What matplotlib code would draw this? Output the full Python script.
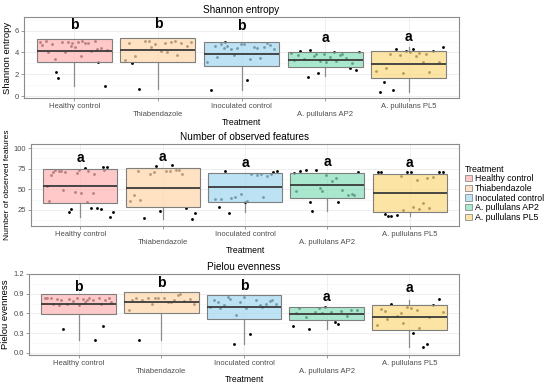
import matplotlib
matplotlib.use("Agg")
import matplotlib.pyplot as plt
from matplotlib.patches import Patch
import numpy as np

plt.rcParams['font.family'] = ['Liberation Sans', 'DejaVu Sans']

categories = ["Healthy control", "Thiabendazole", "Inoculated control",
              "A. pullulans AP2", "A. pullulans PL5"]
colors = ["#FFC9C9", "#FFE2C2", "#BDE3F5", "#A9E9CF", "#FDE4A6"]

# ---- Shannon entropy ----
shannon_q1 = [3.14, 3.14, 2.77, 2.68, 1.69]
shannon_med = [4.15, 4.20, 3.90, 3.35, 2.98]
shannon_q3 = [5.20, 5.35, 5.00, 4.03, 4.18]
shannon_lo = [0.92, 0.68, 0.58, 1.82, 0.37]
shannon_hi = [5.20, 5.35, 5.00, 4.03, 4.46]
shannon_letters = ["b", "b", "b", "a", "a"]
shannon_letter_y = [6.55, 6.6, 6.4, 5.3, 5.45]
shannon_pts = [
    [4.95, 5.1, 2.2, 3.1, 4.85, 5.05, 4.9, 5.0, 0.95, 4.95, 4.8, 5.05, 4.95,
     4.7, 4.9, 1.66, 4.4, 4.5, 4.05, 4.1, 4.0, 4.2, 3.7, 3.4, 4.35, 4.6],
    [3.0, 5.1, 5.05, 4.95, 4.9, 0.68, 4.9, 4.75, 4.85, 5.0, 5.1, 4.6, 4.1,
     3.7, 3.8, 4.5, 3.3, 4.0],
    [4.95, 4.85, 4.8, 4.6, 4.4, 4.35, 4.3, 1.48, 4.8, 4.5, 4.45, 0.58, 4.5,
     4.6, 4.7, 4.8, 3.6, 3.45, 3.8, 3.1, 3.4, 4.4],
    [2.12, 3.95, 4.06, 1.78, 2.58, 3.85, 3.75, 3.8, 3.7, 2.4, 3.6, 3.4, 3.5,
     3.2, 3.3, 3.25, 4.2, 3.0, 3.1, 4.1, 3.9, 3.85, 4.0],
    [4.0, 1.26, 3.9, 3.8, 4.46, 3.7, 3.85, 4.1, 4.15, 0.37, 3.1, 4.28, 3.1,
     4.28, 2.6, 2.2, 2.1, 2.3, 3.95, 0.58],
]

# ---- Number of observed features ----
obs_q1 = [33.6, 28.3, 35.2, 39.3, 23.0]
obs_med = [54.1, 52.0, 52.5, 55.3, 45.9]
obs_q3 = [75.0, 76.2, 70.0, 70.0, 68.0]
obs_lo = [16.8, 13.5, 23.0, 24.2, 17.6]
obs_hi = [75.0, 76.2, 70.0, 70.0, 68.0]
obs_letters = ["a", "a", "a", "a", "a"]
obs_letter_y = [87.7, 89.3, 82.4, 83.2, 81.6]
obs_pts = [
    [54.5, 72.0, 48.8, 73.0, 73.4, 71.3, 68.4, 22.5, 16.0, 76.0, 72.5, 26.2,
     46.7, 35.7, 27.9, 70.5, 77.0, 45.9, 73.5, 27.0, 26.6, 22.9, 35.2, 72.0,
     77.0, 70.0, 67.6, 45.5],
    [71.7, 73.4, 70.5, 21.7, 72.0, 15.2, 27.9, 23.8, 43.4, 74.0, 68.9, 13.5,
     71.7, 37.3, 68.9, 77.9, 35.6, 79.0],
    [21.3, 68.0, 34.4, 29.0, 68.5, 41.0, 72.0, 68.0, 72.0, 66.0, 44.0, 38.0,
     66.8, 40.0, 71.3, 36.0, 38.0, 41.0],
    [51.6, 70.0, 64.0, 34.8, 44.0, 66.8, 72.0, 49.5, 73.0, 70.5, 60.2, 73.4,
     43.4, 48.4, 48.4, 34.4, 23.8, 43.4],
    [70.5, 20.1, 64.0, 66.0, 70.5, 61.5, 17.6, 64.8, 70.5, 71.5, 33.2, 18.8,
     71.0, 29.0, 17.6, 27.9, 25.0, 70.5, 26.0],
]

# ---- Pielou evenness ----
pie_q1 = [0.59, 0.61, 0.52, 0.50, 0.346]
pie_med = [0.742, 0.77, 0.70, 0.59, 0.544]
pie_q3 = [0.89, 0.925, 0.875, 0.69, 0.727]
pie_lo = [0.19, 0.19, 0.14, 0.36, 0.09]
pie_hi = [0.89, 0.925, 0.875, 0.69, 0.81]
pie_letters = ["b", "b", "b", "a", "a"]
pie_letter_y = [1.007, 1.07, 1.02, 0.854, 0.99]
pie_pts = [
    [0.83, 0.81, 0.80, 0.41, 0.84, 0.84, 0.81, 0.75, 0.84, 0.82, 0.82, 0.84,
     0.79, 0.84, 0.83, 0.36, 0.80, 0.72, 0.74, 0.19, 0.82, 0.78, 0.77, 0.73, 0.75],
    [0.84, 0.88, 0.75, 0.74, 0.78, 0.80, 0.79, 0.83, 0.81, 0.80, 0.83, 0.82,
     0.83, 0.19, 0.89, 0.83, 0.645, 0.78],
    [0.845, 0.79, 0.85, 0.78, 0.73, 0.13, 0.75, 0.285, 0.72, 0.74, 0.78, 0.80,
     0.81, 0.82, 0.81, 0.68, 0.68, 0.69, 0.57, 0.70],
    [0.676, 0.41, 0.47, 0.356, 0.65, 0.69, 0.676, 0.64, 0.62, 0.65, 0.62,
     0.54, 0.56, 0.60, 0.60, 0.44],
    [0.68, 0.64, 0.14, 0.61, 0.615, 0.65, 0.75, 0.73, 0.70, 0.66, 0.08, 0.56,
     0.82, 0.30, 0.51, 0.54, 0.46, 0.43, 0.38],
]

panels = [
    dict(title="Shannon entropy", ylabel="Shannon entropy",
         q1=shannon_q1, med=shannon_med, q3=shannon_q3, lo=shannon_lo, hi=shannon_hi,
         pts=shannon_pts, letters=shannon_letters, ly=shannon_letter_y,
         ylim=(-0.18, 7.26), yticks=[0, 2, 4, 6], yticklabels=["0", "2", "4", "6"],
         minor=[1, 3, 5, 7], rect=(24, 17, 459, 98), ylfs=6.8),
    dict(title="Number of observed features", ylabel="Number of observed features",
         q1=obs_q1, med=obs_med, q3=obs_q3, lo=obs_lo, hi=obs_hi,
         pts=obs_pts, letters=obs_letters, ly=obs_letter_y,
         ylim=(5.5, 105), yticks=[25, 50, 75, 100], yticklabels=["25", "50", "75", "100"],
         minor=[12.5, 37.5, 62.5, 87.5], rect=(31, 144, 459, 226), ylfs=6.1),
    dict(title="Pielou evenness", ylabel="Pielou evenness",
         q1=pie_q1, med=pie_med, q3=pie_q3, lo=pie_lo, hi=pie_hi,
         pts=pie_pts, letters=pie_letters, ly=pie_letter_y,
         ylim=(-0.035, 1.2), yticks=[0.0, 0.3, 0.6, 0.9, 1.2],
         yticklabels=["0.0", "0.3", "0.6", "0.9", "1.2"],
         minor=[0.15, 0.45, 0.75, 1.05], rect=(29, 274, 459, 355), ylfs=6.8),
]

W, H = 550, 387
fig = plt.figure(figsize=(W / 100, H / 100), dpi=100)
fig.patch.set_facecolor("white")

ALPHA = 0.72
def face(c):
    rgb = np.array(matplotlib.colors.to_rgb(c))
    base = 1 - (1 - rgb) / ALPHA
    return (*np.clip(base, 0, 1), ALPHA)

pos = np.arange(1, len(categories) + 1)
for p in panels:
    l, t, r, b = p["rect"]
    ax = fig.add_axes([l / W, 1 - b / H, (r - l) / W, (b - t) / H])
    ax.set_xlim(0.4, 5.6)
    ax.set_ylim(*p["ylim"])
    ax.set_facecolor("white")
    # grid
    for y in p["yticks"]:
        ax.axhline(y, color="#EBEBEB", lw=0.6, zorder=0)
    for y in p["minor"]:
        ax.axhline(y, color="#F3F3F3", lw=0.4, zorder=0)
    for x in pos:
        ax.axvline(x, color="#EBEBEB", lw=0.6, zorder=0)
    # points (jittered deterministically)
    for i, vals in enumerate(p["pts"]):
        n = len(vals)
        offs = ((np.arange(n) * 0.6180339 + 0.13 * i) % 1.0 - 0.5) * 0.82
        ax.scatter(pos[i] + offs, vals, s=4.2, color="black", lw=0, zorder=2)
    # boxes
    stats = []
    for i in range(len(categories)):
        stats.append(dict(med=p["med"][i], q1=p["q1"][i], q3=p["q3"][i],
                          whislo=p["lo"][i], whishi=p["hi"][i], fliers=[]))
    bp = ax.bxp(stats, positions=pos, widths=0.9, patch_artist=True,
                showcaps=False, showfliers=False,
                boxprops=dict(edgecolor="#7F7F7F", lw=0.8),
                whiskerprops=dict(color="#8C8C8C", lw=0.9),
                medianprops=dict(color="#3A3A3A", lw=1.3))
    for patch, c in zip(bp["boxes"], colors):
        patch.set_facecolor(face(c))
        patch.set_zorder(3)
    for ln in bp["medians"]:
        ln.set_zorder(4)
    for ln in bp["whiskers"]:
        ln.set_zorder(1)
    # letters
    for i, (lt, yy) in enumerate(zip(p["letters"], p["ly"])):
        ax.text(pos[i], yy, lt, ha="center", va="center", fontsize=10,
                fontweight="bold", color="black", zorder=5)
    # axes styling
    for s in ax.spines.values():
        s.set_color("#8C8C8C")
        s.set_linewidth(0.8)
    ax.set_yticks(p["yticks"])
    ax.set_yticklabels(p["yticklabels"])
    ax.set_xticks(pos)
    ax.set_xticklabels([c if i % 2 == 0 else "\n" + c for i, c in enumerate(categories)])
    ax.tick_params(axis="both", labelsize=5.5, labelcolor="#4D4D4D",
                   color="#8C8C8C", length=2.2, width=0.6, pad=1.5)
    ax.set_ylabel(p["ylabel"], fontsize=p["ylfs"], labelpad=2)
    ax.set_xlabel("Treatment", fontsize=6.2, labelpad=0)
    ax.set_title(p["title"], fontsize=7.2, pad=3)

handles = [Patch(facecolor=c, edgecolor="#8C8C8C", lw=0.6) for c in colors]
fig.legend(handles, categories, title="Treatment", loc="upper left",
           bbox_to_anchor=(461 / W, 1 - 161 / H), frameon=False, fontsize=6.3,
           title_fontsize=6.3, handlelength=0.8, handleheight=0.7,
           handletextpad=0.4, labelspacing=0.08, alignment="left",
           borderaxespad=0)

fig.savefig("out.png", dpi=100)
